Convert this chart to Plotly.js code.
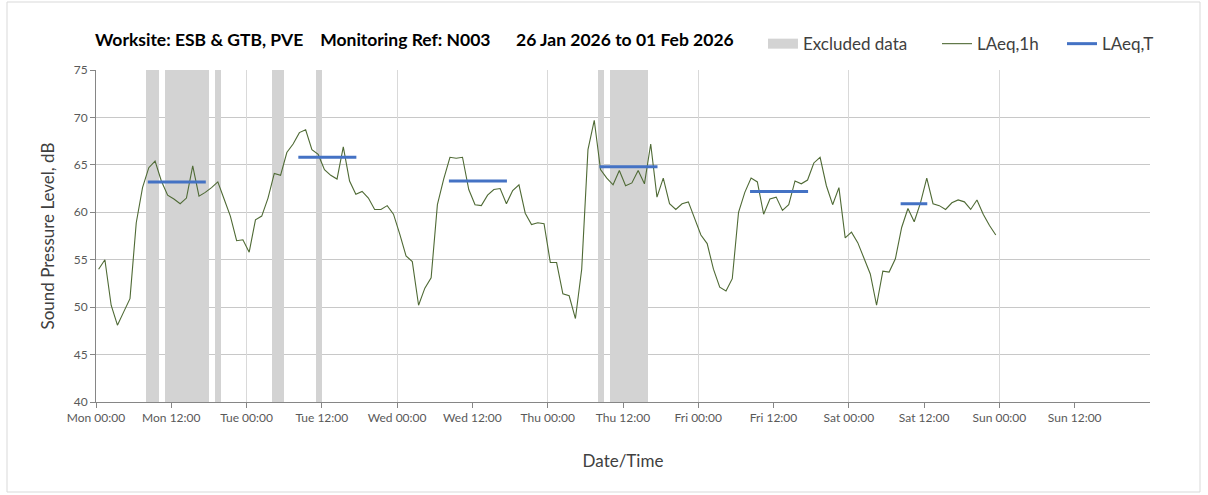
<!DOCTYPE html>
<html>
<head>
<meta charset="utf-8">
<script src="https://cdn.plot.ly/plotly-3.0.1.min.js"></script>
<style>html,body{margin:0;padding:0;background:#fff;}#chart{width:1208px;height:495px;}</style>
</head>
<body>
<div id="chart"></div>
<script>
// ---- data ----
const hourlyStart = '2026-01-26T00:25:00Z';
const laeq1h = [
  54.0, 55.0, 50.2, 48.1, 49.5, 50.9, 58.9, 62.6, 64.7, 65.4, 63.3, 61.8,
  61.4, 60.9, 61.5, 64.9, 61.7, 62.1, 62.6, 63.2, 61.4, 59.6, 57.0, 57.1,
  55.8, 59.2, 59.6, 61.5, 64.1, 63.9, 66.3, 67.2, 68.4, 68.7, 66.6, 66.1,
  64.5, 63.9, 63.5, 66.9, 63.3, 61.9, 62.2, 61.5, 60.3, 60.3, 60.7, 59.8,
  57.7, 55.4, 54.8, 50.2, 52.0, 53.1, 60.8, 63.5, 65.8, 65.7, 65.8, 62.4,
  60.8, 60.7, 61.8, 62.4, 62.5, 60.9, 62.3, 62.9, 59.9, 58.7, 58.9, 58.8,
  54.7, 54.7, 51.4, 51.2, 48.8, 54.0, 66.6, 69.7, 64.5, 63.6, 62.9, 64.4,
  62.8, 63.1, 64.4, 63.0, 67.2, 61.6, 63.6, 60.9, 60.3, 60.9, 61.1, 59.3,
  57.6, 56.7, 54.0, 52.1, 51.7, 53.0, 60.0, 62.1, 63.6, 63.2, 59.8, 61.4,
  61.6, 60.2, 60.8, 63.3, 63.0, 63.4, 65.2, 65.8, 62.8, 60.8, 62.6, 57.3,
  57.9, 56.8, 55.1, 53.5, 50.2, 53.8, 53.7, 55.1, 58.4, 60.4, 59.0, 61.0,
  63.6, 60.9, 60.7, 60.3, 61.0, 61.3, 61.1, 60.3, 61.3, 59.8, 58.6, 57.6
];
const laeqTStart = ['2026-01-26 08:15','2026-01-27 08:15','2026-01-28 08:15','2026-01-29 08:15','2026-01-30 08:15','2026-01-31 08:15'];
const laeqTEnd   = ['2026-01-26 17:30','2026-01-27 17:30','2026-01-28 17:30','2026-01-29 17:30','2026-01-30 17:30','2026-01-31 12:30'];
const laeqTValue = [63.2, 65.8, 63.3, 64.8, 62.2, 60.9];
const excludedStart = ['2026-01-26 08:00','2026-01-26 11:00','2026-01-26 19:00','2026-01-27 04:00','2026-01-27 11:00','2026-01-29 08:00','2026-01-29 10:00'];
const excludedEnd   = ['2026-01-26 10:00','2026-01-26 18:00','2026-01-26 20:00','2026-01-27 06:00','2026-01-27 12:00','2026-01-29 09:00','2026-01-29 16:00'];
const axisStart = '2026-01-26 00:00';
const axisEnd = '2026-02-02 00:00';
const tickCount = 14; // Mon 00:00 ... Sun 12:00, every 12 h
const yMin = 40, yMax = 75;
const titleParts = ['Worksite: ESB &amp; GTB, PVE', 'Monitoring Ref: N003', '26 Jan 2026 to 01 Feb 2026'];

// ---- helpers ----
const HOUR = 3600000;
const toMs = s => Date.parse(s.replace(' ', 'T') + ':00Z');
const t0 = Date.parse(hourlyStart);
const xHourly = laeq1h.map((_, k) => t0 + k * HOUR);
const axStart = toMs(axisStart), axEnd = toMs(axisEnd);
const tickVals = Array.from({length: tickCount}, (_, i) => axStart + i * 12 * HOUR);

const exX = excludedStart.map((s, i) => (toMs(s) + toMs(excludedEnd[i])) / 2);
const exW = excludedStart.map((s, i) => toMs(excludedEnd[i]) - toMs(s));

const tX = [], tY = [];
laeqTStart.forEach((s, i) => {
  tX.push(toMs(s), toMs(laeqTEnd[i]), null);
  tY.push(laeqTValue[i], laeqTValue[i], null);
});

const FONT = 'Lato, "Open Sans", sans-serif';
const GREY_BAND = '#d3d3d3';

const traces = [
  {
    type: 'bar', name: 'Excluded data', showlegend: false,
    x: exX, width: exW, y: exX.map(() => yMax - yMin), base: yMin,
    marker: {color: GREY_BAND, line: {width: 0}}, hoverinfo: 'skip'
  },
  { // legend entry for excluded data
    type: 'scatter', mode: 'lines', name: 'Excluded data', legend: 'legend',
    x: [null], y: [null], line: {color: GREY_BAND, width: 10}, hoverinfo: 'skip'
  },
  {
    type: 'scatter', mode: 'lines', name: 'LAeq,1h', legend: 'legend2',
    x: xHourly, y: laeq1h,
    line: {color: '#4f6a35', width: 1.1}
  },
  {
    type: 'scatter', mode: 'lines', name: 'LAeq,T', legend: 'legend3',
    x: tX, y: tY, connectgaps: false,
    line: {color: '#4472c4', width: 3}
  },
  { // carrier for daily gridlines axis
    type: 'scatter', mode: 'lines', x: [axStart], y: [null],
    xaxis: 'x2', showlegend: false, hoverinfo: 'skip'
  }
];

const legendBase = {
  orientation: 'h', xanchor: 'left', y: 1.078, yanchor: 'middle',
  font: {family: FONT, size: 17, color: '#404040'},
  itemwidth: 30, bgcolor: 'rgba(0,0,0,0)'
};

const sp = n => '&nbsp;'.repeat(n);

const layout = {
  width: 1208, height: 495,
  margin: {l: 96, r: 58, t: 70, b: 93},
  paper_bgcolor: '#ffffff', plot_bgcolor: '#ffffff',
  font: {family: FONT, color: '#404040'},
  showlegend: true,
  bargap: 0,
  title: {
    text: '<b>' + titleParts[0] + sp(4) + titleParts[1] + sp(6) + titleParts[2] + '</b>',
    font: {family: FONT, size: 17.5, color: '#000000'},
    x: 95 / 1208, xanchor: 'left', xref: 'container',
    y: 1 - 40 / 495, yanchor: 'middle', yref: 'container'
  },
  legend:  Object.assign({}, legendBase, {x: 0.6328}),
  legend2: Object.assign({}, legendBase, {x: 0.7979}),
  legend3: Object.assign({}, legendBase, {x: 0.9165}),
  xaxis: {
    type: 'date', range: [axStart, axEnd],
    tickvals: tickVals, tickformat: '%a %H:%M',
    tickfont: {family: FONT, size: 12, color: '#595959'},
    ticks: 'outside', ticklen: 5, tickcolor: '#868686',
    showgrid: false, showline: true, linecolor: '#868686', linewidth: 1,
    zeroline: false,
    title: {text: 'Date/Time', font: {family: FONT, size: 17, color: '#404040'}, standoff: 30}
  },
  xaxis2: {
    type: 'date', overlaying: 'x', matches: 'x', range: [axStart, axEnd],
    tick0: axStart, dtick: 24 * HOUR,
    showticklabels: false, ticks: '', showgrid: true, gridcolor: '#d9d9d9', gridwidth: 1,
    showline: false, zeroline: false, layer: 'below traces'
  },
  yaxis: {
    range: [yMin, yMax], dtick: 5, tick0: yMin,
    tickfont: {family: FONT, size: 12, color: '#595959'},
    ticks: 'outside', ticklen: 5, tickcolor: '#868686',
    showgrid: true, gridcolor: '#c8c8c8', gridwidth: 1,
    showline: true, linecolor: '#868686', linewidth: 1, zeroline: false,
    title: {text: 'Sound Pressure Level, dB', font: {family: FONT, size: 17, color: '#404040'}, standoff: 14}
  },
  shapes: [{
    type: 'rect', xref: 'paper', yref: 'paper',
    x0: (7 - 96) / 1054, x1: (1200 - 96) / 1054,
    y0: (402 - 492) / 332, y1: (402 - 2) / 332,
    line: {color: '#d9d9d9', width: 1}, fillcolor: 'rgba(0,0,0,0)', layer: 'below'
  }]
};

Plotly.newPlot('chart', traces, layout, {displayModeBar: false, staticPlot: true});
</script>
</body>
</html>
